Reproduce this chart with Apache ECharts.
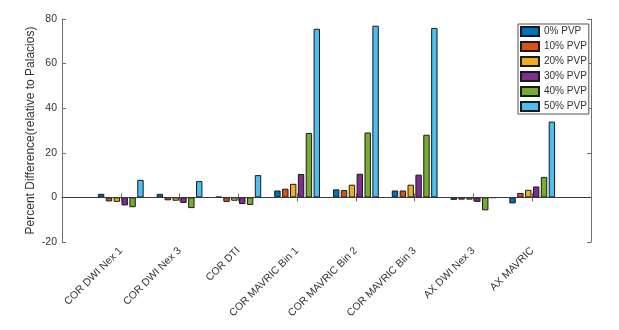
<!DOCTYPE html>
<html>
<head>
<meta charset="utf-8">
<script src="https://cdn.jsdelivr.net/npm/echarts@6/dist/echarts.min.js"></script>
<style>html,body{margin:0;padding:0;background:#fff;}#c{width:619px;height:330px;}</style>
</head>
<body>
<div id="c"></div>
<script>
var categories = ['COR DWI Nex 1','COR DWI Nex 3','COR DTI','COR MAVRIC Bin 1','COR MAVRIC Bin 2','COR MAVRIC Bin 3','AX DWI Nex 3','AX MAVRIC'];
var seriesNames = ['0% PVP','10% PVP','20% PVP','30% PVP','40% PVP','50% PVP'];
var pvp0  = [1.6, 1.6, 0.3, 3.1, 3.6, 3.1, -1.1, -2.7];
var pvp10 = [-1.8, -1.3, -2.0, 3.9, 3.3, 3.1, -1.0, 2.0];
var pvp20 = [-2.0, -1.5, -1.5, 6.1, 5.7, 5.7, -1.0, 3.4];
var pvp30 = [-3.6, -2.5, -3.0, 10.5, 10.6, 10.2, -2.0, 4.9];
var pvp40 = [-4.4, -4.8, -3.4, 28.9, 29.1, 28.1, -5.8, 9.2];
var pvp50 = [7.9, 7.3, 10.0, 75.6, 77.0, 76.0, -0.2, 34.0];
var yTicks = [-20, 0, 20, 40, 60, 80];

var colors = ['#0072BD','#D95319','#EDB120','#7E2F8E','#77AC30','#4DBEEE'];
var allValues = [pvp0, pvp10, pvp20, pvp30, pvp40, pvp50];

// pad one empty slot on each side so categories sit at 1..8 on a 0..9 axis
var cats = [''].concat(categories).concat(['']);
function pad(a){ return [null].concat(a).concat([null]); }
var inner = function(i){ return i > 0 && i < cats.length - 1; };

var axisColor = '#6e6e6e';
var textColor = '#333333';
var font = 'Liberation Sans, Arial, sans-serif';

var series = allValues.map(function(vals, k){
  var s = {
    name: seriesNames[k],
    type: 'bar',
    data: pad(vals),
    barWidth: 6.4,
    barGap: '23%',
    itemStyle: { color: colors[k], borderColor: '#1a1a1a', borderWidth: 1 },
    emphasis: { disabled: true },
    animation: false
  };
  if (k === 0) {
    s.markLine = {
      silent: true,
      symbol: 'none',
      label: { show: false },
      lineStyle: { color: '#3a3a3a', width: 1, type: 'solid' },
      data: [{ yAxis: 0 }],
      animation: false
    };
  }
  return s;
});

var chart = echarts.init(document.getElementById('c'), null, { renderer: 'canvas' });
chart.setOption({
  animation: false,
  backgroundColor: '#ffffff',
  textStyle: { fontFamily: font },
  grid: { left: 62, right: 28, top: 19, bottom: 88, containLabel: false },
  legend: {
    orient: 'vertical',
    left: 518,
    top: 24,
    icon: 'rect',
    itemWidth: 18,
    itemHeight: 9,
    itemGap: 4,
    padding: [2, 2, 2, 2],
    borderColor: '#555555',
    borderWidth: 1,
    backgroundColor: '#ffffff',
    textStyle: { fontSize: 10, color: textColor, fontFamily: font },
    data: seriesNames
  },
  xAxis: [{
    type: 'category',
    data: cats,
    boundaryGap: false,
    position: 'bottom',
    axisLine: { lineStyle: { color: axisColor, width: 1 } },
    axisTick: { inside: true, length: 4, interval: function(i){ return inner(i); }, lineStyle: { color: axisColor } },
    axisLabel: { interval: function(i){ return inner(i); }, rotate: 45, fontSize: 10.5, color: textColor, margin: 7, fontFamily: font },
    splitLine: { show: false }
  }, {
    type: 'category',
    data: cats,
    boundaryGap: false,
    position: 'top',
    axisLine: { lineStyle: { color: axisColor, width: 1 } },
    axisTick: { inside: true, length: 4, interval: function(i){ return inner(i); }, lineStyle: { color: axisColor } },
    axisLabel: { show: false },
    splitLine: { show: false }
  }],
  yAxis: [{
    type: 'value',
    min: yTicks[0],
    max: yTicks[yTicks.length - 1],
    interval: 20,
    position: 'left',
    name: 'Percent Difference(relative to Palacios)',
    nameLocation: 'middle',
    nameGap: 25,
    nameMoveOverlap: false,
    nameTextStyle: { fontSize: 12, color: textColor, fontFamily: font },
    axisLine: { show: true, lineStyle: { color: axisColor, width: 1 } },
    axisTick: { show: true, inside: true, length: 4, lineStyle: { color: axisColor } },
    axisLabel: { fontSize: 10.5, color: textColor, margin: 5, fontFamily: font },
    splitLine: { show: false }
  }, {
    type: 'value',
    min: yTicks[0],
    max: yTicks[yTicks.length - 1],
    interval: 20,
    position: 'right',
    axisLine: { show: true, lineStyle: { color: axisColor, width: 1 } },
    axisTick: { show: true, inside: true, length: 4, lineStyle: { color: axisColor } },
    axisLabel: { show: false },
    splitLine: { show: false }
  }],
  series: series
});
</script>
</body>
</html>
